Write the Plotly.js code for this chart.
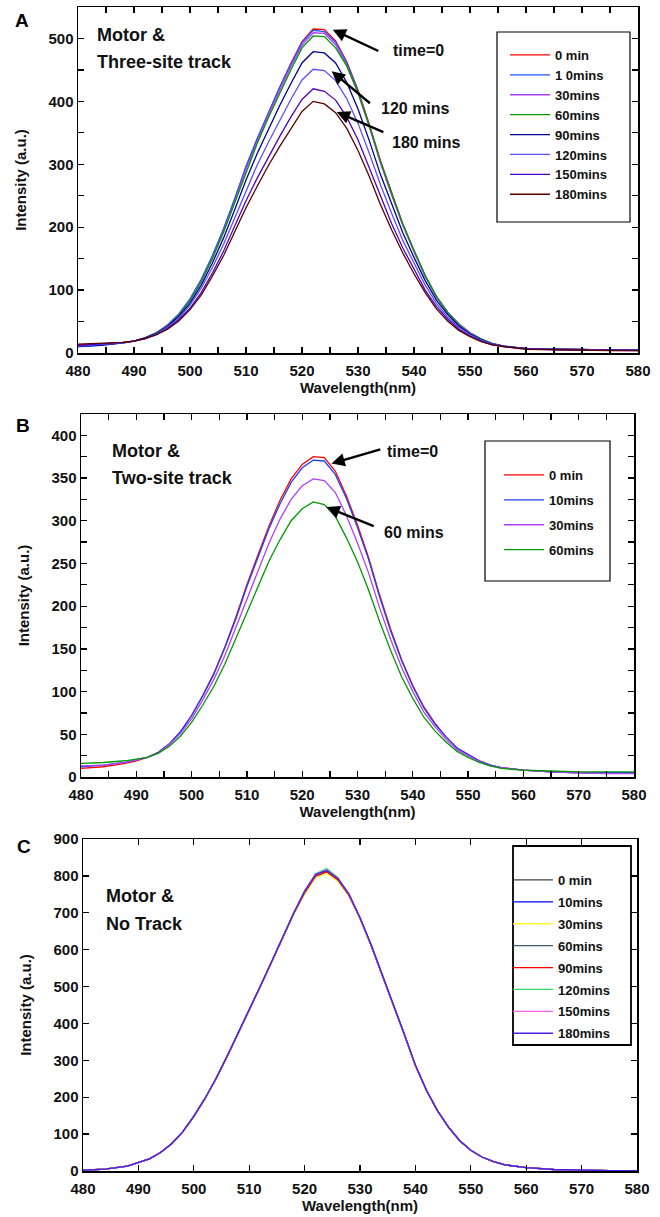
<!DOCTYPE html>
<html>
<head>
<meta charset="utf-8">
<script src="https://cdn.plot.ly/plotly-3.0.1.min.js"></script>
<style>html,body{margin:0;padding:0;background:#fff;}#chart{width:660px;height:1217px;}</style>
</head>
<body>
<div id="chart"></div>
<script>
// ---------- DATA ----------
const wavelength = [480,484,488,490,492,494,496,498,500,502,504,506,508,510,512,514,516,518,520,522,524,526,528,530,532,534,536,538,540,542,544,546,548,550,552,554,556,560,565,570,575,580];

// Panel A: Motor & Three-site track
const labelsA = ['0 min','1 0mins','30mins','60mins','90mins','120mins','150mins','180mins'];
const colorsA = ['#ff0000','#2456ff','#b040ff','#009a00','#00008f','#5a50ff','#5200c8','#5a0000'];
const A_0   = [13,14,17,19,24,32,44,61,84,115,153,196,244,295,340,382,422,460,495,515,514,496,463,418,364,306,254,205,163,123,90,65,46,32,22,15,11,7,6,5,5,5];
const A_10  = [10,12,16,19,24,32,45,62,86,117,155,198,246,297,341,383,422,459,493,513,511,494,461,416,362,304,253,204,162,122,89,65,46,32,22,15,11,7,6,5,5,5];
const A_30  = [11,13,16,19,24,32,44,60,83,114,151,194,241,292,336,378,417,455,489,509,508,490,457,413,360,302,251,203,161,122,89,64,46,32,22,15,11,7,6,5,5,5];
const A_60  = [11,13,16,19,24,32,43,60,83,113,150,192,239,289,333,374,413,450,485,504,503,485,456,414,362,305,253,205,163,123,90,64,45,31,22,15,11,7,6,5,5,5];
const A_90  = [10,12,16,19,24,31,42,58,79,108,143,183,228,275,317,356,393,428,461,479,477,461,430,388,338,284,236,191,152,115,84,61,43,30,21,14,11,7,6,5,5,5];
const A_120 = [11,13,16,19,23,30,41,55,76,103,136,173,215,260,299,335,370,403,434,451,449,433,404,365,318,268,222,179,143,108,79,57,41,29,20,14,10,7,6,5,5,5];
const A_150 = [12,14,17,19,23,29,39,53,71,96,127,162,201,242,278,312,344,375,403,420,416,402,375,339,295,248,206,167,133,100,74,54,38,27,19,13,10,7,5,5,5,4];
const A_180 = [14,15,17,19,23,29,38,51,69,92,122,155,192,231,265,298,328,357,384,400,396,382,357,322,281,236,196,159,126,96,70,51,36,26,18,13,10,6,5,5,4,4];

// Panel B: Motor & Two-site track
const labelsB = ['0 min','10mins','30mins','60mins'];
const colorsB = ['#ff0000','#2040ff','#b040ff','#009a00'];
const B_0  = [10,12,16,19,23,29,39,53,72,95,121,152,187,225,260,294,324,349,366,375,374,358,329,295,257,213,173,137,107,82,63,47,34,26,19,14,11,8,6,5,5,5];
const B_10 = [12,14,17,20,23,29,39,53,72,95,120,151,185,223,258,291,320,345,362,371,370,354,326,292,255,211,171,136,106,81,62,47,34,26,19,14,11,8,6,5,5,5];
const B_30 = [13,14,17,20,23,28,38,51,68,90,114,142,175,210,243,274,302,325,341,349,347,333,306,274,239,198,161,128,100,76,59,44,32,25,18,13,11,8,6,5,4,4];
const B_60 = [16,17,19,21,23,28,36,48,64,84,106,132,162,194,224,253,278,300,314,322,319,305,280,252,219,182,148,117,92,70,54,41,30,23,17,13,10,8,7,6,6,6];

// Panel C: Motor & No Track
const labelsC = ['0 min','10mins','30mins','60mins','90mins','120mins','150mins','180mins'];
const colorsC = ['#444444','#0000ff','#ffff33','#3f5873','#ff0000','#33dd66','#ff60ee','#4a1ee6'];
const C_0   = [2,5,13,22,33,50,74,106,148,196,250,310,372,436,500,565,632,697,755,800,812,790,748,685,612,532,452,370,286,218,163,118,82,56,38,26,17,9,4,2,1,1];
const C_10  = [2,5,13,22,33,50,74,106,148,196,250,310,372,436,500,565,632,697,757,803,815,792,750,685,612,532,452,370,286,218,163,118,82,56,38,26,17,9,4,2,1,1];
const C_30  = [2,5,13,22,33,50,74,106,147,195,249,309,371,435,499,564,630,695,750,795,806,785,745,683,611,531,451,369,285,217,162,117,82,56,38,26,17,9,4,2,1,1];
const C_60  = [2,5,13,22,33,50,74,106,148,196,250,310,372,436,500,565,632,697,756,801,813,791,749,685,612,532,452,370,286,218,163,118,82,56,38,26,17,9,4,2,1,1];
const C_90  = [2,5,13,22,33,50,74,106,148,196,250,310,372,436,500,565,632,697,754,799,811,789,747,685,612,532,452,370,286,218,163,118,82,56,38,26,17,9,4,2,1,1];
const C_120 = [2,5,13,22,33,50,74,106,148,196,250,311,373,437,501,566,633,699,760,806,820,796,752,687,613,533,453,371,287,219,163,118,82,56,38,26,17,9,4,2,1,1];
const C_150 = [2,5,13,22,33,50,74,106,148,196,250,310,372,436,500,565,632,698,758,803,816,793,750,686,613,533,452,370,286,218,163,118,82,56,38,26,17,9,4,2,1,1];
const C_180 = [2,5,13,22,33,50,74,106,148,196,250,311,373,437,501,566,633,698,758,804,815,793,751,687,614,534,453,371,287,219,163,118,82,56,38,26,17,9,4,2,1,1];

const seriesA = [A_0,A_10,A_30,A_60,A_90,A_120,A_150,A_180];
const seriesB = [B_0,B_10,B_30,B_60];
const seriesC = [C_0,C_10,C_30,C_60,C_90,C_120,C_150,C_180];

// ---------- CHART ----------
const FONT = 'Liberation Sans, Arial, Helvetica, sans-serif';
const W = 660, H = 1217;
const px = v => v / W;
const py = v => 1 - v / H;

const traces = [];
function addPanel(series, labels, colors, xa, ya, legendId) {
  series.forEach((s, i) => {
    traces.push({
      type: 'scatter', mode: 'lines', x: wavelength, y: s,
      name: labels[i], xaxis: xa, yaxis: ya, legend: legendId, legendgroup: legendId + '_' + i,
      line: { color: colors[i], width: 1.3 }
    });
  });
}
addPanel(seriesA, labelsA, colorsA, 'x', 'y', 'legend');
addPanel(seriesB, labelsB, colorsB, 'x2', 'y2', 'legend2');
addPanel(seriesC, labelsC, colorsC, 'x3', 'y3', 'legend3');

const tickFont = { family: FONT, size: 15, color: '#111', weight: 'bold' };
const titleFont = { family: FONT, size: 15, color: '#111', weight: 'bold' };

function xAxis(domain, anchor, minorDtick) {
  const ax = {
    domain: domain, anchor: anchor, range: [480, 580], dtick: 10, tick0: 480,
    showline: true, linecolor: '#000', linewidth: 1.5, mirror: 'ticks',
    ticks: 'inside', ticklen: 6, tickwidth: 1.3, tickcolor: '#000',
    showgrid: false, zeroline: false, tickfont: tickFont, ticklabelstandoff: 3,
    title: { text: 'Wavelength(nm)', font: titleFont, standoff: 4 }
  };
  if (minorDtick) ax.minor = { dtick: minorDtick, ticks: 'inside', ticklen: 6, tickwidth: 1.3, tickcolor: '#000', showgrid: false };
  return ax;
}
function yAxis(domain, anchor, range, dtick, minorDtick) {
  const ax = {
    domain: domain, anchor: anchor, range: range, dtick: dtick, tick0: 0,
    showline: true, linecolor: '#000', linewidth: 1.5, mirror: 'ticks',
    ticks: 'inside', ticklen: 6, tickwidth: 1.3, tickcolor: '#000',
    showgrid: false, zeroline: false, tickfont: tickFont,
    title: { text: 'Intensity (a.u.)', font: titleFont, standoff: 18 }
  };
  if (minorDtick) ax.minor = { dtick: minorDtick, ticks: 'inside', ticklen: 6, tickwidth: 1.3, tickcolor: '#000', showgrid: false };
  return ax;
}

const legendFont = { family: FONT, size: 13, color: '#111', weight: 'bold' };
function legendCfg(x, yTop, gap) {
  return { x: px(x), y: py(yTop), xanchor: 'left', yanchor: 'top', bgcolor: 'rgba(0,0,0,0)',
           borderwidth: 0, font: legendFont, tracegroupgap: gap, itemwidth: 40 };
}

const txt = (text, x, y, xref, yref, size) => ({
  text: text, x: x, y: y, xref: xref, yref: yref, showarrow: false,
  xanchor: 'left', yanchor: 'middle', font: { family: FONT, size: size, color: '#111', weight: 'bold' }
});
const arrow = (x, y, ax, ay, xref, yref) => ({
  text: '', x: x, y: y, ax: ax, ay: ay, xref: xref, yref: yref, axref: xref, ayref: yref,
  showarrow: true, arrowhead: 2, arrowsize: 1.1, arrowwidth: 2.4, arrowcolor: '#000'
});
const letter = (t, x, y) => ({
  text: t, x: px(x), y: py(y), xref: 'paper', yref: 'paper', showarrow: false,
  xanchor: 'center', yanchor: 'middle', font: { family: FONT, size: 19, color: '#000', weight: 'bold' }
});

const annotations = [
  letter('A', 22, 21), letter('B', 23, 425), letter('C', 24, 846),
  txt('Motor &', 483.0, 505, 'x', 'y', 18), txt('Three-site track', 483.0, 462, 'x', 'y', 18),
  txt('Motor &', 485.2, 382, 'x2', 'y2', 18), txt('Two-site track', 485.2, 350, 'x2', 'y2', 18),
  txt('Motor &', 483.7, 745, 'x3', 'y3', 18), txt('No Track', 483.7, 669, 'x3', 'y3', 18),
  txt('time=0', 535.9, 481, 'x', 'y', 16), arrow(525.5, 514, 533.9, 479, 'x', 'y'),
  txt('120 mins', 533.8, 389, 'x', 'y', 16), arrow(525.3, 448, 532.4, 395, 'x', 'y'),
  txt('180 mins', 535.7, 335, 'x', 'y', 16), arrow(526.2, 383, 534.8, 350, 'x', 'y'),
  txt('time=0', 535.0, 381, 'x2', 'y2', 16), arrow(525.3, 367, 534.4, 384, 'x2', 'y2'),
  txt('60 mins', 534.4, 286, 'x2', 'y2', 16), arrow(524.4, 316, 533.2, 293, 'x2', 'y2')
];

const box = (x0, y0, x1, y1, w) => ({
  type: 'rect', xref: 'paper', yref: 'paper', x0: px(x0), x1: px(x1), y0: py(y1), y1: py(y0),
  line: { color: '#000', width: w }, fillcolor: 'rgba(0,0,0,0)'
});

const layout = {
  width: W, height: H, margin: { l: 0, r: 0, t: 0, b: 0 },
  paper_bgcolor: '#fff', plot_bgcolor: '#fff', showlegend: true,
  font: { family: FONT, color: '#111' },
  xaxis: xAxis([px(78), px(638)], 'y', 5),
  yaxis: yAxis([py(353), py(7)], 'x', [0, 550], 100, 50),
  xaxis2: xAxis([px(81), px(634)], 'y2', 5),
  yaxis2: yAxis([py(777), py(414)], 'x2', [0, 425], 50, 25),
  xaxis3: xAxis([px(83), px(637)], 'y3', null),
  yaxis3: yAxis([py(1171), py(839)], 'x3', [0, 900], 100, null),
  legend: legendCfg(505, 40, 0),
  legend2: legendCfg(499, 460, 5),
  legend3: legendCfg(508, 865, 2),
  annotations: annotations,
  shapes: [box(497, 32, 630, 222, 1.2), box(485, 441, 610, 581, 1.2), box(513, 846, 631, 1045, 1.8)]
};

Plotly.newPlot('chart', traces, layout, { displayModeBar: false, staticPlot: true });
</script>
</body>
</html>
